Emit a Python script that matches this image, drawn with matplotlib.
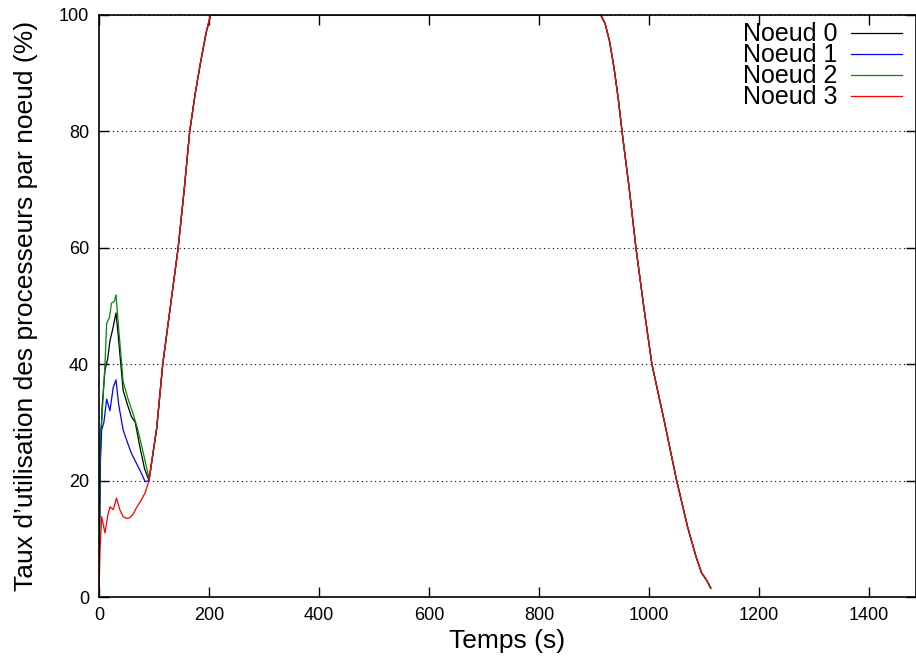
import matplotlib
matplotlib.use("Agg")
import matplotlib.pyplot as plt

# temps (s) et taux (%)
rise_t = [93, 105, 116, 130, 144, 155, 165, 175, 185, 195, 203]
rise_y = [20, 29, 40, 50, 60, 70, 80, 86.5, 92, 97, 100]
fall_t = [912, 920, 928, 936, 944, 952, 964, 976, 990, 1005, 1028, 1050, 1070, 1085, 1095, 1105, 1112]
fall_y = [100, 98.5, 95.5, 91, 85.5, 79, 70, 60, 50, 40, 30, 20, 12, 7, 4.2, 2.8, 1.5]

t0 = [0, 3, 6, 11, 16, 20, 25, 31, 35, 44, 52, 59, 66, 74, 83, 91]
y0 = [0, 26, 33, 39, 41, 44, 46, 48.8, 45, 35.5, 33, 31, 30, 26, 22, 20]
t1 = [0, 2, 5, 9, 14, 20, 26, 31, 36, 44, 52, 59, 68, 76, 84, 91]
y1 = [0, 22, 28.7, 30, 34, 32, 36, 37.3, 33, 28.7, 26.5, 24.7, 23, 21.5, 19.8, 20]
t2 = [0, 2, 5, 11, 14, 19, 23, 28, 31, 36, 44, 53, 62, 70, 80, 91]
y2 = [0, 28, 30, 40, 47, 48, 50.5, 50.8, 51.9, 46, 37, 34, 31.5, 29, 25, 20.4]
t3 = [0, 2, 5, 11, 16, 20, 26, 32, 38, 44, 50, 56, 62, 68, 76, 84, 91]
y3 = [0, 8, 13.8, 11, 14, 15.5, 15, 17, 15, 13.8, 13.5, 13.6, 14.2, 15.3, 16.5, 17.9, 20]

plateau_t = [203, 912]
plateau_y = [100, 100]

labels = ["Noeud 0", "Noeud 1", "Noeud 2", "Noeud 3"]
colors = ["black", "#0000ff", "#008a00", "#ff0000"]
starts = [(t0, y0), (t1, y1), (t2, y2), (t3, y3)]

plt.rcParams["font.family"] = ["Liberation Sans", "DejaVu Sans"]

fig = plt.figure(figsize=(9.16, 6.57), dpi=100)
ax = fig.add_axes([0.108, 0.0913, 0.892, 0.886])

for lab, col, (ts, ys) in zip(labels, colors, starts):
    t = list(ts) + rise_t[1:] + plateau_t[1:] + fall_t[1:]
    y = list(ys) + rise_y[1:] + plateau_y[1:] + fall_y[1:]
    ax.plot(t, y, color=col, lw=0.9, label=lab)

ax.set_xlim(0, 1485)
ax.set_ylim(0, 100)
ax.set_xticks(range(0, 1401, 200))
ax.set_yticks(range(0, 101, 20))
ax.tick_params(direction="in", length=7, width=1, top=True, right=True, labelsize=13, pad=7)
ax.yaxis.grid(True, linestyle=(0, (1, 3)), color="black", lw=0.8)
for s in ax.spines.values():
    s.set_linewidth(1.2)

ax.set_xlabel("Temps (s)", fontsize=19, labelpad=4)
ax.set_ylabel("Taux d\u2019utilisation des processeurs par noeud (%)", fontsize=19, labelpad=15)

leg = ax.legend(loc="upper right", bbox_to_anchor=(0.983, 0.987), frameon=False, markerfirst=False,
                fontsize=18, labelspacing=-0.12, handlelength=2.05, handletextpad=0.52,
                borderpad=0, borderaxespad=0)

fig.savefig("out.png", dpi=100)
